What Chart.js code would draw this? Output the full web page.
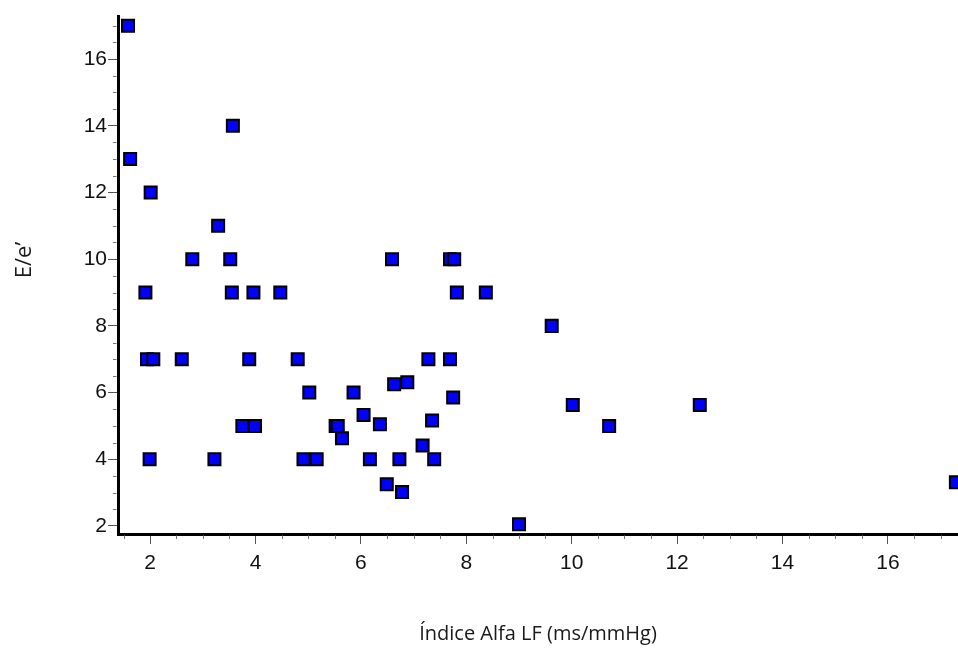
<!DOCTYPE html>
<html lang="es">
<head>
<meta charset="utf-8">
<title>E/e' vs Índice Alfa LF</title>
<script src="https://cdn.jsdelivr.net/npm/chart.js@4/dist/chart.umd.min.js"></script>
<style>
html,body{margin:0;padding:0;background:#fff;}
#wrap{width:958px;height:648px;position:relative;}
</style>
</head>
<body>
<div id="wrap"><canvas id="grafico"></canvas></div>
<script>
// Datos (Indice Alfa LF vs E/e')
const alfaLF  = [1.58,1.62,2.01,3.57,3.29,2.80,3.52,6.59,7.69,7.77,
                 1.91,3.55,3.96,4.47,7.82,8.37,9.62,1.94,2.06,2.60,
                 3.88,4.80,7.28,7.69,5.02,5.86,6.63,6.88,7.75,10.02,
                 12.43,10.71,6.05,5.52,5.56,5.64,6.36,7.35,3.75,3.99,
                 1.99,3.22,4.91,5.16,6.17,6.73,7.17,7.39,6.49,6.78,
                 9.00,17.29];
const eSobreE = [17,13,12,14,11,10,10,10,10,10,
                 9,9,9,9,9,9,8,7,7,7,
                 7,7,7,7,6,6,6.25,6.31,5.85,5.63,
                 5.63,5,5.33,5,5,4.63,5.05,5.16,5,5,
                 4,4,4,4,4,4,4.41,4,3.25,3.02,
                 2.05,3.31];
const ticksX = [2,4,6,8,10,12,14,16];
const ticksY = [2,4,6,8,10,12,14,16];
const rangoX = [1.39,17.33];
const rangoY = [1.76,17.29];
const tituloX = 'Índice Alfa LF (ms/mmHg)';
const tituloY = 'E/e’';

const puntos = alfaLF.map((v,i)=>({x:v,y:eSobreE[i]}));

// marcas menores cada 0.5 y titulo del eje Y
const extras = {
  id:'extras',
  afterDraw(chart){
    const {ctx, chartArea:a, scales:{x,y}} = chart;
    ctx.save();
    ctx.strokeStyle='#777'; ctx.lineWidth=1;
    ctx.beginPath();
    for(let v=Math.ceil(rangoX[0]*2)/2; v<=rangoX[1]; v+=0.5){
      if(ticksX.includes(v)) continue;
      const px = Math.round(x.getPixelForValue(v))+0.5;
      ctx.moveTo(px,a.bottom+1.5); ctx.lineTo(px,a.bottom+5);
    }
    for(let v=Math.ceil(rangoY[0]*2)/2; v<=rangoY[1]; v+=0.5){
      if(ticksY.includes(v)) continue;
      const py = Math.round(y.getPixelForValue(v))+0.5;
      ctx.moveTo(a.left-1.5,py); ctx.lineTo(a.left-5,py);
    }
    ctx.stroke();
    ctx.translate(25,(a.top+a.bottom)/2-15);
    ctx.rotate(-Math.PI/2);
    ctx.font='22px "Open Sans"';
    ctx.fillStyle='#1a1a1a';
    ctx.textAlign='center'; ctx.textBaseline='middle';
    ctx.fillText(tituloY,0,0);
    ctx.restore();
  }
};

new Chart(document.getElementById('grafico'),{
  type:'scatter',
  data:{datasets:[{
    data:puntos,
    pointStyle:'rect',
    pointRadius:8.5,
    pointHoverRadius:8.5,
    pointBackgroundColor:'#0000ff',
    pointBorderColor:'#000',
    pointBorderWidth:2,
    clip:false
  }]},
  options:{
    responsive:true,
    maintainAspectRatio:false,
    animation:false,
    layout:{autoPadding:false,padding:{top:16,right:0,left:0,bottom:0}},
    plugins:{legend:{display:false},tooltip:{enabled:false}},
    scales:{
      x:{
        type:'linear',min:rangoX[0],max:rangoX[1],
        afterBuildTicks:s=>{s.ticks=ticksX.map(v=>({value:v}));},
        afterFit:s=>{s.height=114;},
        grid:{drawOnChartArea:false,drawTicks:true,tickLength:10,color:'#555',lineWidth:1},
        border:{display:true,color:'#000',width:3},
        ticks:{color:'#111',font:{family:'"Liberation Sans", Arial',size:21},padding:7,maxRotation:0},
        title:{display:true,text:tituloX,color:'#1a1a1a',font:{family:'"Open Sans"',size:20},padding:{top:0,bottom:2}}
      },
      y:{
        type:'linear',min:rangoY[0],max:rangoY[1],
        afterBuildTicks:s=>{s.ticks=ticksY.map(v=>({value:v}));},
        afterFit:s=>{s.width=118;},
        grid:{drawOnChartArea:false,drawTicks:true,tickLength:10,color:'#555',lineWidth:1},
        border:{display:true,color:'#000',width:3},
        ticks:{color:'#111',font:{family:'"Liberation Sans", Arial',size:21},padding:1}
      }
    }
  },
  plugins:[extras]
});
</script>
</body>
</html>
